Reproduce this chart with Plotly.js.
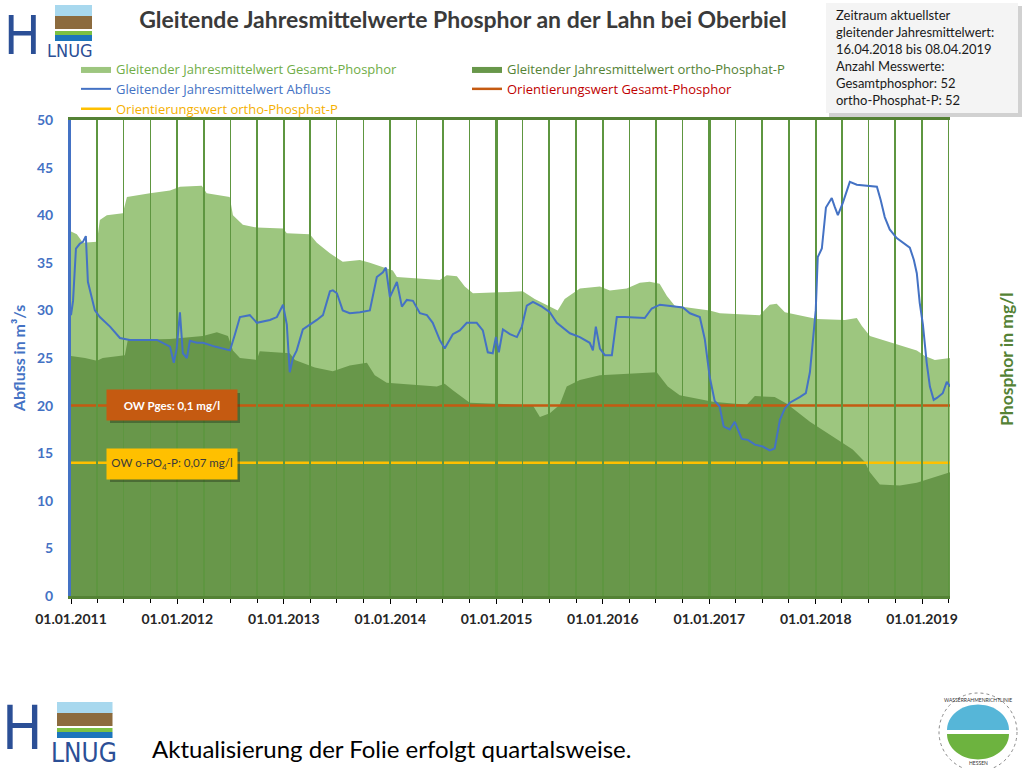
<!DOCTYPE html>
<html><head><meta charset="utf-8">
<script src="https://cdn.plot.ly/plotly-3.0.1.min.js"></script>
<style>html,body{margin:0;padding:0;background:#fff}#chart{width:1024px;height:768px}</style>
</head><body><div id="chart"></div>
<script>
// ---------- DATA ----------
const gesamtDates = ['2011-01-01','2011-01-21','2011-02-11','2011-03-31','2011-04-10','2011-05-04','2011-06-28','2011-07-12','2011-09-29','2011-12-07',
 '2012-01-10','2012-03-25','2012-04-11','2012-06-29','2012-07-10','2012-08-13','2012-09-30','2012-12-29',
 '2013-01-11','2013-03-31','2013-04-24','2013-06-08','2013-07-22','2013-09-19','2013-10-23',
 '2014-01-10','2014-01-24','2014-06-20','2014-07-14','2014-08-18','2014-09-14','2014-10-12',
 '2015-01-12','2015-04-01','2015-05-12','2015-07-03','2015-07-30','2015-08-23','2015-10-14','2015-12-22',
 '2016-01-25','2016-03-23','2016-05-07','2016-06-10','2016-07-14','2016-08-08','2016-09-04',
 '2017-01-02','2017-02-06','2017-06-23','2017-07-27','2017-08-20','2017-09-17',
 '2018-01-05','2018-04-11','2018-05-22','2018-06-08','2018-07-06','2018-08-19','2018-10-17','2018-12-14',
 '2019-01-11','2019-02-14','2019-04-08'];
const gesamtP = [0.1915,0.190,0.1855,0.186,0.1975,0.200,0.201,0.2095,0.2115,0.213,
 0.215,0.2155,0.2115,0.2095,0.200,0.195,0.1935,0.193,
 0.1905,0.190,0.1855,0.180,0.1755,0.1765,0.175,
 0.171,0.1675,0.166,0.1685,0.168,0.1625,0.159,
 0.1595,0.160,0.156,0.152,0.150,0.156,0.1615,0.1625,
 0.1605,0.1615,0.1645,0.165,0.164,0.1575,0.1525,
 0.150,0.1485,0.1475,0.153,0.1535,0.149,
 0.1455,0.145,0.146,0.142,0.1365,0.1345,0.132,0.129,
 0.126,0.124,0.125];

const orthoDates = ['2011-01-01','2011-02-18','2011-03-31','2011-04-20','2011-07-05','2011-07-15','2011-12-07',
 '2012-03-29','2012-05-16','2012-06-23','2012-07-10','2012-08-03','2012-09-30','2012-10-10',
 '2013-01-21','2013-02-08','2013-04-17','2013-06-18','2013-08-15','2013-10-13','2013-11-09','2013-12-20',
 '2014-06-10','2014-07-07','2014-08-04','2014-10-01',
 '2015-03-22','2015-05-06','2015-05-30','2015-07-03','2015-08-06','2015-08-30','2015-10-14','2015-12-22',
 '2016-07-04','2016-08-11','2016-09-21',
 '2017-01-13','2017-05-09','2017-06-06','2017-08-13','2017-09-24','2017-12-12',
 '2018-03-01','2018-05-08','2018-06-18','2018-07-06','2018-08-09','2018-10-17','2018-12-14',
 '2019-02-14','2019-04-08'];
const orthoP = [0.126,0.125,0.1235,0.125,0.1265,0.1345,0.135,
 0.1365,0.1385,0.1365,0.129,0.125,0.124,0.1285,
 0.1275,0.124,0.120,0.118,0.121,0.1225,0.116,0.112,
 0.110,0.1115,0.108,0.1015,
 0.1005,0.100,0.094,0.096,0.1005,0.110,0.1135,0.116,
 0.1175,0.110,0.1055,
 0.102,0.1005,0.105,0.1045,0.101,0.0915,
 0.0835,0.077,0.0705,0.065,0.0585,0.058,0.0595,
 0.0625,0.065];

const abflussDates = ['2011-01-01','2011-01-08','2011-01-18','2011-01-31','2011-02-11','2011-02-21','2011-02-28','2011-03-14','2011-03-24','2011-04-10',
 '2011-05-15','2011-06-18','2011-07-22','2011-10-23','2011-11-13','2011-12-07','2011-12-20','2011-12-30',
 '2012-01-10','2012-01-20','2012-02-03','2012-02-13','2012-03-08','2012-03-29','2012-05-09','2012-06-30','2012-07-17','2012-08-03','2012-09-06','2012-09-30','2012-11-14','2012-12-08','2012-12-29',
 '2013-01-11','2013-01-21','2013-02-01','2013-02-14','2013-03-07','2013-04-24','2013-05-15','2013-06-08','2013-06-18','2013-07-02','2013-07-22','2013-08-15','2013-09-19','2013-10-23','2013-11-16','2013-12-07','2013-12-17','2013-12-31',
 '2014-01-24','2014-02-10','2014-02-27','2014-03-20','2014-04-13','2014-05-07','2014-05-27','2014-06-20','2014-07-07','2014-08-04','2014-08-28','2014-09-21','2014-10-25','2014-11-15','2014-12-02','2014-12-19','2014-12-30',
 '2015-01-09','2015-01-23','2015-02-16','2015-03-12','2015-03-29','2015-04-15','2015-05-06','2015-06-06','2015-07-03','2015-07-27','2015-09-10','2015-10-14','2015-11-17','2015-11-28','2015-12-08','2015-12-22',
 '2016-01-08','2016-02-01','2016-02-18','2016-03-16','2016-05-24','2016-06-17','2016-07-15','2016-10-02','2016-10-26','2016-11-29','2016-12-16',
 '2017-01-02','2017-01-19','2017-02-05','2017-02-19','2017-03-12','2017-03-29','2017-04-22','2017-05-13','2017-06-06','2017-07-03','2017-07-27','2017-08-13','2017-08-31','2017-09-17','2017-10-04','2017-11-07','2017-11-28','2017-12-12','2017-12-22',
 '2018-01-01','2018-01-08','2018-01-22','2018-02-05','2018-02-25','2018-03-07','2018-03-18','2018-04-04','2018-04-28','2018-05-22','2018-07-30','2018-08-12','2018-08-26','2018-09-12','2018-10-06','2018-11-20','2018-12-04','2018-12-14','2018-12-24',
 '2019-01-04','2019-01-17','2019-01-28','2019-02-10','2019-02-21','2019-03-13','2019-03-27','2019-04-08'];
const abfluss = [29.5,31.0,36.5,37.0,37.2,37.8,33.0,31.4,30.0,29.3,
 28.3,27.1,26.9,26.9,26.6,26.2,24.5,26.0,
 29.8,25.5,25.0,26.8,26.6,26.6,26.2,25.8,27.5,29.3,29.5,28.7,29.0,29.3,30.6,
 28.5,23.5,25.0,25.8,28.0,29.0,29.5,32.0,32.1,31.8,30.0,29.7,29.8,30.0,33.5,34.0,34.5,31.4,
 33.0,30.4,31.1,31.0,29.7,29.5,28.7,26.9,26.0,27.5,27.9,28.7,28.7,27.9,25.6,25.5,27.2,
 25.6,28.0,27.5,27.2,28.3,30.5,30.9,30.4,29.8,28.7,27.6,27.2,26.6,25.8,28.3,26.0,
 25.3,25.3,29.3,29.3,29.2,30.2,30.6,30.3,29.7,29.3,27.0,
 23.0,20.5,19.9,17.8,17.5,18.3,16.5,16.4,15.9,15.7,15.3,15.5,18.5,19.7,20.3,20.9,21.3,23.5,26.5,
 30.0,35.6,36.5,40.8,41.8,40.9,40.0,41.3,43.5,43.2,43.0,41.6,39.8,38.5,37.6,36.6,35.3,33.9,30.8,
 28.5,24.5,22.0,20.6,20.8,21.3,22.5,22.0];

const owDates = ['2011-01-01','2019-04-08'];
const owPgesValue = 0.1;
const owOrthoValue = 0.07;
const owPges = [owPgesValue, owPgesValue];
const owOrtho = [owOrthoValue, owOrthoValue];

const xRange = ['2011-01-01','2019-04-07'];
const xTickFormat = '%d.%m.%Y';

// ---------- LAYOUT HELPERS ----------
const L = 71, R = 950, T = 120, B = 596;
const px = x => (x - L) / (R - L);
const py = y => (B - y) / (B - T);
const FONT = 'Lato, "Open Sans", sans-serif';
const LEGFONT = '"Open Sans", Lato, sans-serif';
const NARROW = '"Liberation Sans Narrow", "DejaVu Sans Condensed", Lato, sans-serif';
const GRID = '#5E9640';

function rect(x0, y0, x1, y1, color, extra) {
  return Object.assign({type:'rect', xref:'paper', yref:'paper', x0:px(x0), x1:px(x1), y0:py(y1), y1:py(y0),
    fillcolor:color, line:{width:0}, layer:'above'}, extra || {});
}
function circ(cx, cy, r, color, line) {
  return {type:'circle', xref:'paper', yref:'paper', x0:px(cx-r), x1:px(cx+r), y0:py(cy+r), y1:py(cy-r),
    fillcolor:color, line: line || {width:0}, layer:'above'};
}
function halfDisc(cx, cy, r, top) {
  let pts = [];
  const n = 40;
  for (let i = 0; i <= n; i++) {
    const a = Math.PI * i / n;
    const ang = top ? Math.PI + a : a;
    pts.push([cx + r * Math.cos(ang), cy + r * Math.sin(ang) * 0.82 + (top ? -2 : 2)]);
  }
  return {type:'path', xref:'paper', yref:'paper', layer:'above', line:{width:0},
    fillcolor: top ? '#56B6D8' : '#6DB33F',
    path: 'M' + pts.map(p => px(p[0]).toFixed(5) + ',' + py(p[1]).toFixed(5)).join('L') + 'Z'};
}
function logoShapes(x0, y0, sx, sy) {
  const w = 37 * sx;
  return [
    rect(x0, y0, x0 + w, y0 + 12 * sy, '#A8D8EE'),
    rect(x0, y0 + 11 * sy, x0 + w, y0 + 24 * sy, '#8C6B3E'),
    rect(x0, y0 + 24 * sy, x0 + w, y0 + 26 * sy, '#FFFFFF'),
    rect(x0, y0 + 26 * sy, x0 + w, y0 + 30 * sy, '#7CC143'),
    rect(x0, y0 + 30 * sy, x0 + w, y0 + 36 * sy, '#1C75BC')
  ];
}
function txt(x, y, text, font, extra) {
  return Object.assign({xref:'paper', yref:'paper', x:px(x), y:py(y), xanchor:'center', yanchor:'middle',
    showarrow:false, text:text, font:font}, extra || {});
}

// ---------- TRACES ----------
const traces = [
  {type:'scatter', mode:'lines', x:gesamtDates, y:gesamtP, xaxis:'x', yaxis:'y',
   line:{width:0, color:'#9DC67F'}, fill:'tozeroy', fillcolor:'#9DC67F', hoverinfo:'skip', legendrank:1,
   name:'<span style="color:#70AD47">Gleitender Jahresmittelwert Gesamt-Phosphor</span>'},
  {type:'scatter', mode:'lines', x:orthoDates, y:orthoP, xaxis:'x', yaxis:'y',
   line:{width:0, color:'#68974A'}, fill:'tozeroy', fillcolor:'#68974A', hoverinfo:'skip', legendrank:2,
   name:'<span style="color:#548235">Gleitender Jahresmittelwert ortho-Phosphat-P</span>'},
  {type:'scatter', mode:'lines', x:owDates, y:owPges, xaxis:'x', yaxis:'y',
   line:{width:2.5, color:'#C55A11'}, hoverinfo:'skip', legendrank:4,
   name:'<span style="color:#C00000">Orientierungswert Gesamt-Phosphor</span>'},
  {type:'scatter', mode:'lines', x:owDates, y:owOrtho, xaxis:'x', yaxis:'y',
   line:{width:2.5, color:'#FFC000'}, hoverinfo:'skip', legendrank:5,
   name:'<span style="color:#F5B000">Orientierungswert ortho-Phosphat-P</span>'},
  {type:'scatter', mode:'lines', x:abflussDates, y:abfluss, xaxis:'x2', yaxis:'y3',
   line:{width:2, color:'#4472C4'}, hoverinfo:'skip', legendrank:3,
   name:'<span style="color:#4472C4">Gleitender Jahresmittelwert Abfluss</span>'}
];

// ---------- LAYOUT ----------
const shapes = [
  rect(829, 6, 1022, 117, 'rgba(0,0,0,0.18)'),
  rect(826, 3, 1018, 113, '#F4F4F4'),
  rect(110, 393, 240, 423, 'rgba(0,0,0,0.28)'),
  rect(110, 452, 240, 482, 'rgba(0,0,0,0.28)'),
  ...logoShapes(55, 5, 1, 1),
  ...logoShapes(57, 702, 1.5, 1),
  circ(978, 732, 39, '#FFFFFF', {width:1, color:'#8A8A8A', dash:'dot'}),
  halfDisc(978, 732, 31, true),
  halfDisc(978, 732, 31, false)
];

const annotations = [
  txt(834, 5, 'Zeitraum aktuellster<br>gleitender Jahresmittelwert:<br>16.04.2018 bis 08.04.2019<br>Anzahl Messwerte:<br>Gesamtphosphor: 52<br>ortho-Phosphat-P: 52',
    {family:FONT, size:13, color:'#1a1a1a'}, {xanchor:'left', yanchor:'top', align:'left'}),
  txt(172, 405, '<b>OW Pges: 0,1 mg/l</b>', {family:FONT, size:11.5, color:'#FFFFFF'},
    {bgcolor:'#C55A11', width:124, height:24, borderpad:3}),
  txt(172, 464, 'OW o-PO<sub>4</sub>-P: 0,07 mg/l', {family:FONT, size:11.5, color:'#3A3A3A'},
    {bgcolor:'#FFC000', width:124, height:24, borderpad:3}),
  txt(1006, 359, '<b>Phosphor in mg/l</b>', {family:FONT, size:17.5, color:'#548235'}, {textangle:-90}),
  // logos (text parts)
  txt(22, 36, 'H', {family:NARROW, size:54, color:'#2B4F96'}),
  txt(70, 50, 'LNUG', {family:NARROW, size:18, color:'#2B4F96'}),
  txt(22, 728, 'H', {family:NARROW, size:60, color:'#2B4F96'}),
  txt(84, 753, 'LNUG', {family:NARROW, size:26, color:'#2B4F96'}),
  txt(978, 763, 'HESSEN', {family:FONT, size:5, color:'#333'}),
  txt(978, 700, 'WASSERRAHMENRICHTLINIE', {family:FONT, size:5, color:'#333'}),
  txt(150, 748, 'Aktualisierung der Folie erfolgt quartalsweise.', {family:FONT, size:24, color:'#000'}, {xanchor:'left'})
];

const layout = {
  width:1024, height:768,
  margin:{l:L, r:1024 - R, t:T, b:768 - B, pad:0, autoexpand:false},
  paper_bgcolor:'#FFFFFF', plot_bgcolor:'rgba(0,0,0,0)',
  separators:',.',
  hovermode:false,
  title:{text:'<b>Gleitende Jahresmittelwerte Phosphor an der Lahn bei Oberbiel</b>',
    x:463/1024, xref:'container', xanchor:'center', y:1 - 20/768, yref:'container', yanchor:'middle',
    font:{family:FONT, size:23, color:'#3A3A3A'}},
  showlegend:true,
  legend:{orientation:'h', x:px(76), xanchor:'left', y:py(54), yanchor:'top',
    entrywidth:346, entrywidthmode:'pixels', traceorder:'normal', itemwidth:30,
    font:{family:LEGFONT, size:13}, bgcolor:'rgba(0,0,0,0)'},
  xaxis:{type:'date', range:xRange, domain:[0,1], anchor:'y', visible:false},
  yaxis:{range:[0,0.25], domain:[0,1], anchor:'x', visible:false},
  xaxis2:{type:'date', range:xRange, domain:[0,1], anchor:'y2', side:'bottom',
    tick0:'2011-01-01', dtick:'M12', tickformat:xTickFormat,
    ticks:'outside', ticklen:5, tickcolor:'#000', tickwidth:1, ticklabelstandoff:3,
    showgrid:true, gridcolor:GRID, gridwidth:2.2,
    minor:{dtick:'M3', tick0:'2011-01-01', showgrid:true, gridcolor:GRID, gridwidth:1.5,
      ticks:'outside', ticklen:4, tickcolor:'#000', tickwidth:1},
    showline:true, linecolor:'#548235', linewidth:3, mirror:true, zeroline:false,
    tickfont:{family:FONT, size:14, color:'#262626', weight:'bold'}},
  yaxis2:{range:[0,0.25], domain:[0,1], anchor:'x2', side:'right',
    tick0:0, dtick:0.05, showgrid:true, gridcolor:GRID, gridwidth:2,
    showline:true, linecolor:'#548235', linewidth:3,
    ticks:'outside', ticklen:5, tickcolor:'#548235', tickwidth:2,
    minor:{dtick:0.01, ticks:'outside', ticklen:3, tickcolor:'#548235', tickwidth:1.5, showgrid:false},
    zeroline:false, ticklabelstandoff:8,
    tickfont:{family:FONT, size:14, color:'#548235', weight:'bold'}},
  yaxis3:{range:[0,50], overlaying:'y2', anchor:'x2', side:'left',
    tick0:0, dtick:5, showgrid:false, zeroline:false,
    showline:true, linecolor:'#4472C4', linewidth:3, ticks:'', ticklabelstandoff:12,
    tickfont:{family:FONT, size:14, color:'#4472C4', weight:'bold'},
    title:{text:'<b>Abfluss in m³/s</b>', font:{family:FONT, size:16, color:'#4472C4'}, standoff:8}},
  shapes:shapes,
  annotations:annotations
};

Plotly.newPlot('chart', traces, layout, {displayModeBar:false, staticPlot:true});
</script>
</body></html>
